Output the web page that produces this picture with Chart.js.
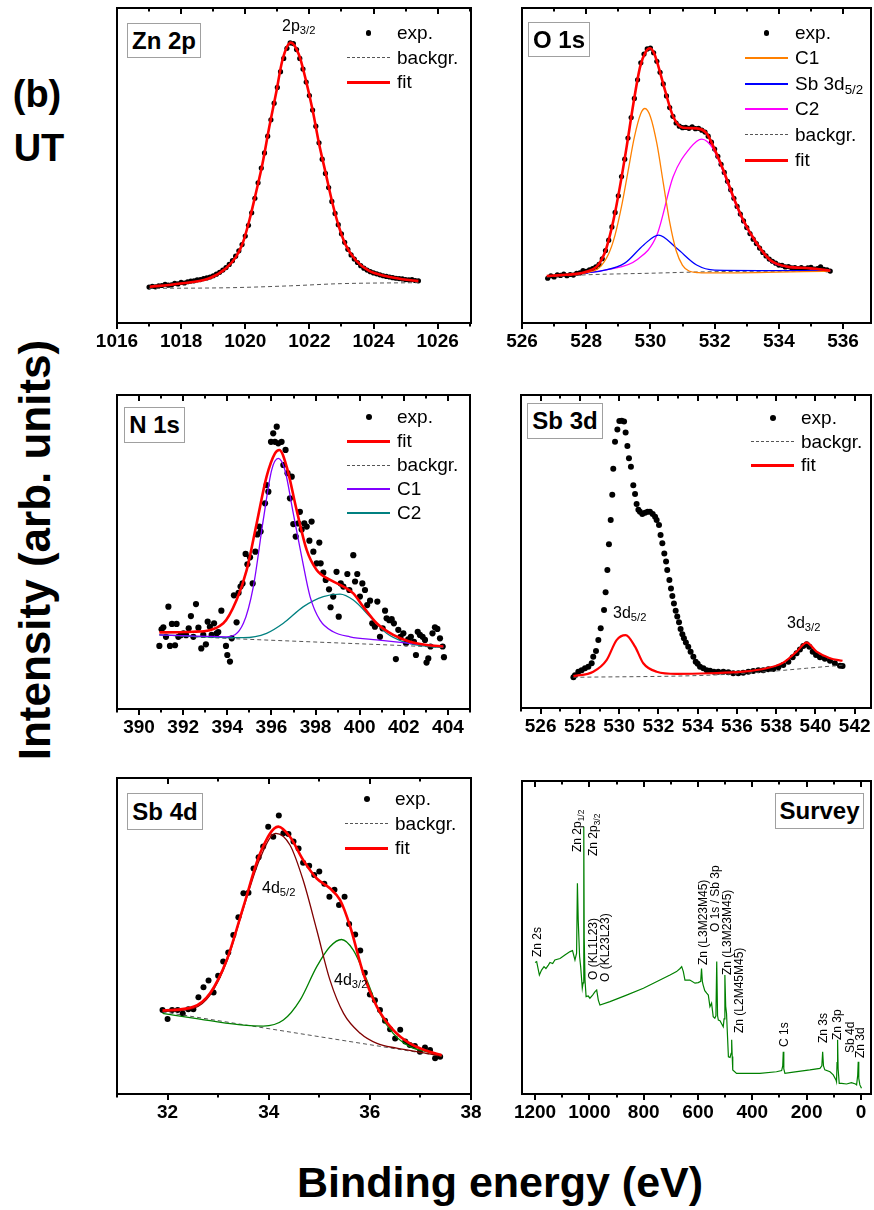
<!DOCTYPE html>
<html>
<head>
<meta charset="utf-8">
<script src="https://cdn.jsdelivr.net/npm/chart.js@4.4.0/dist/chart.umd.min.js"></script>
<style>
body { margin: 0; background: #fff; }
#fig { position: relative; width: 874px; height: 1210px; overflow: hidden; font-family: "Liberation Sans", Arial, sans-serif; color: #000; }
.pan { position: absolute; }
.ttl { position: absolute; border: 1px solid #a0a0a0; background: #fff; font-weight: bold; font-size: 24px; display: flex; align-items: center; justify-content: center; box-sizing: border-box; }
.lrow { position: absolute; height: 24px; display: flex; align-items: center; font-size: 19px; white-space: nowrap; }
.smp { display: inline-block; width: 43px; margin-right: 7px; height: 0; }
.dotw { display: inline-flex; width: 43px; margin-right: 7px; height: 24px; align-items: center; justify-content: center; }
.dotw i { display: block; background: #000; border-radius: 50%; }
.ann { position: absolute; font-size: 16px; line-height: 16px; white-space: nowrap; }
.sb { font-size: 70%; position: relative; top: 0.3em; }
.rot { position: absolute; font-size: 12px; line-height: 14px; white-space: nowrap; transform-origin: 0 0; transform: rotate(-90deg); }
.big { position: absolute; font-weight: bold; white-space: nowrap; text-align: center; }
</style>
</head>
<body>
<div id="fig">
  <div class="big" style="left:0;top:72px;width:74px;font-size:38px;line-height:44px;">(b)</div>
  <div class="big" style="left:2px;top:126px;width:74px;font-size:38px;line-height:44px;">UT</div>
  <div class="big" style="left:-215px;top:525px;width:500px;font-size:44px;line-height:50px;transform:rotate(-90deg);">Intensity (arb. units)</div>
  <div class="big" style="left:200px;top:1161px;width:600px;font-size:43px;line-height:43px;">Binding energy (eV)</div>
</div>
<script>
// ---------- data ----------
const zn2pTicks = [1016, 1018, 1020, 1022, 1024, 1026];
const zn2pMinor = [1017, 1019, 1021, 1023, 1025, 1027];
const zn2pExp = [[1017.0,11.4],[1017.1,11.6],[1017.2,11.5],[1017.3,11.8],[1017.4,11.9],[1017.5,12.3],[1017.6,12.0],[1017.7,12.1],[1017.8,12.6],[1017.9,12.4],
  [1018.0,12.9],[1018.1,12.7],[1018.2,13.1],[1018.3,13.3],[1018.4,13.4],[1018.5,13.7],[1018.6,13.8],[1018.7,14.1],[1018.8,14.3],[1018.9,14.6],
  [1019.0,15.0],[1019.1,15.5],[1019.2,16.1],[1019.3,16.8],[1019.4,17.6],[1019.5,18.6],[1019.6,19.8],[1019.7,21.2],[1019.8,22.9],[1019.9,24.9],
  [1020.0,27.6],[1020.1,31.0],[1020.2,35.0],[1020.3,39.6],[1020.4,44.5],[1020.5,49.2],[1020.6,54.0],[1020.7,59.3],[1020.8,64.5],[1020.9,69.8],
  [1021.0,74.8],[1021.1,79.8],[1021.2,84.0],[1021.3,87.2],[1021.4,88.9],[1021.5,88.7],[1021.6,86.8],[1021.7,84.0],[1021.8,80.6],[1021.9,76.5],
  [1022.0,72.2],[1022.1,67.6],[1022.2,62.5],[1022.3,57.2],[1022.4,52.0],[1022.5,47.5],[1022.6,43.0],[1022.7,38.6],[1022.8,34.8],[1022.9,31.2],
  [1023.0,28.3],[1023.1,25.6],[1023.2,23.4],[1023.3,21.6],[1023.4,20.3],[1023.5,19.2],[1023.6,18.2],[1023.7,17.4],[1023.8,16.8],[1023.9,16.3],
  [1024.0,15.9],[1024.1,15.6],[1024.2,15.3],[1024.3,15.0],[1024.4,14.8],[1024.5,14.6],[1024.6,14.4],[1024.7,14.2],[1024.8,14.1],[1024.9,14.0],
  [1025.0,13.8],[1025.1,13.7],[1025.2,13.8],[1025.3,13.5],[1025.4,13.4]];
const zn2pFit = [[1017.02,11.5],[1017.85,12.4],[1018.88,14.2],[1019.4,17.4],[1019.71,21],[1019.92,25.3],[1020.13,32.7],[1020.33,41.2],[1020.54,50.7],
  [1020.75,62.3],[1020.96,72.9],[1021.16,83.5],[1021.42,89],[1021.68,85],[1021.89,77.1],[1022.1,67.6],[1022.3,57],[1022.51,47.5],[1022.72,38],
  [1022.92,30.6],[1023.13,24.8],[1023.44,20],[1023.85,16.6],[1024.37,14.9],[1024.89,13.9],[1025.4,13.3]];
const zn2pBg = [[1017.0,11.0],[1019.5,11.2],[1021.4,11.8],[1023.0,12.5],[1025.4,12.8]];

const o1sTicks = [526, 528, 530, 532, 534, 536];
const o1sMinor = [527, 529, 531, 533, 535];
const o1sExp = [[526.8,14.2],[526.9,15.0],[527.0,14.6],[527.1,15.3],[527.2,15.1],[527.3,15.5],[527.4,15.0],[527.5,15.4],[527.6,15.2],[527.7,15.8],
  [527.8,15.9],[527.9,16.6],[528.0,16.4],[528.1,16.9],[528.2,17.3],[528.3,17.8],[528.4,18.6],[528.5,20.4],[528.6,23.0],[528.7,26.3],
  [528.8,30.5],[528.9,35.1],[529.0,40.4],[529.1,46.5],[529.2,52.0],[529.3,58.7],[529.4,65.2],[529.5,71.3],[529.6,77.2],[529.7,82.6],
  [529.8,85.4],[529.9,87.0],[530.0,87.3],[530.1,85.8],[530.2,83.1],[530.3,79.6],[530.4,75.9],[530.5,72.1],[530.6,68.4],[530.7,65.6],
  [530.8,63.5],[530.9,62.5],[531.0,62.0],[531.1,62.1],[531.2,61.8],[531.3,62.3],[531.4,61.7],[531.5,61.8],[531.6,61.2],[531.7,60.6],
  [531.8,59.3],[531.9,57.4],[532.0,55.2],[532.1,52.9],[532.2,50.4],[532.3,47.8],[532.4,45.0],[532.5,42.3],[532.6,39.6],[532.7,37.0],
  [532.8,34.6],[532.9,32.4],[533.0,30.3],[533.1,28.4],[533.2,26.6],[533.3,25.2],[533.4,23.8],[533.5,22.4],[533.6,21.3],[533.7,20.3],
  [533.8,19.6],[533.9,19.0],[534.0,18.4],[534.1,18.3],[534.2,17.8],[534.3,17.9],[534.4,17.5],[534.5,17.6],[534.6,17.3],[534.7,17.6],
  [534.8,17.2],[534.9,17.5],[535.0,17.7],[535.1,17.1],[535.2,17.3],[535.3,17.8],[535.4,17.0],[535.5,16.9],[535.6,16.5]];
const o1sFit = [[526.77,14.9],[527.2,15.2],[527.7,15.6],[528.0,16.3],[528.33,17.9],[528.5,20.5],[528.64,24.2],[528.85,32.7],[529.05,43.3],
  [529.26,56],[529.47,69.7],[529.68,81.4],[529.85,86],[529.99,87.2],[530.12,85.5],[530.25,81.4],[530.45,74],[530.71,65.5],[531.02,62],
  [531.44,61.8],[531.75,60.2],[531.96,56],[532.27,48.6],[532.58,40.1],[532.89,32.7],[533.31,25.3],[533.73,20],[534.25,17.9],[534.97,17.4],[535.6,16.6]];
const o1sC1 = [[527.5,15.4],[528.0,16.0],[528.4,17.5],[528.7,22],[528.9,28],[529.1,37],[529.3,48],[529.5,59],[529.7,66.5],[529.83,68.1],
  [530.0,65.5],[530.2,57],[530.4,44.5],[530.6,32],[530.8,23],[531.0,18.3],[531.2,16.5],[531.5,16.0],[532.0,15.9],[535.6,16.5]];
const o1sSb = [[527.7,15.6],[528.5,16.6],[529.2,19],[529.79,24.8],[530.25,27.9],[530.82,23.7],[531.44,18.4],[532.0,16.8],[535.6,16.6]];
const o1sC2 = [[527.7,15.6],[528.7,17],[529.57,20],[530.2,27.9],[530.71,46.5],[531.23,55.5],[531.6,58.4],[531.96,55.2],[532.27,47.9],
  [532.58,39.5],[532.89,32.2],[533.31,25.0],[533.73,19.8],[534.25,17.8],[534.97,17.3],[535.6,16.6]];
const o1sBg = [[526.77,14.6],[528.0,15.3],[530.0,15.8],[532.0,16.3],[535.6,16.5]];

const n1sTicks = [390, 392, 394, 396, 398, 400, 402, 404];
const n1sMinor = [389, 391, 393, 395, 397, 399, 401, 403, 405];
const n1sExp = [[390.92,20.1],[391.02,25.4],[391.10,26.0],[391.22,23.0],[391.33,32.6],[391.40,20.1],[391.49,27.1],[391.63,20.3],[391.70,27.1],
  [391.78,23.0],[391.89,23.5],[392.01,24.1],[392.13,23.5],[392.25,25.7],[392.35,29.6],[392.46,23.0],[392.58,33.4],[392.69,25.9],[392.82,19.3],
  [392.91,23.6],[393.03,20.6],[393.11,27.8],[393.21,26.2],[393.29,23.6],[393.40,27.3],[393.52,24.1],[393.59,24.5],[393.73,31.3],[393.94,20.1],
  [394.00,17.2],[394.12,15.1],[394.20,22.5],[394.30,36.2],[394.42,27.6],[394.51,37.0],[394.60,39.0],[394.69,40.0],[394.83,49.4],[394.91,46.1],
  [395.03,48.3],[395.15,40.0],[395.27,50.1],[395.36,55.6],[395.45,58.1],[395.51,56.5],[395.71,65.5],[395.78,71.3],[395.86,69.2],[395.98,85.1],
  [396.08,87.8],[396.16,85.1],[396.24,89.9],[396.31,84.6],[396.46,85.1],[396.54,77.7],[396.64,82.5],[396.73,75.1],[396.84,67.1],[396.92,74.0],
  [396.99,58.9],[397.10,54.9],[397.22,59.1],[397.29,62.8],[397.37,57.2],[397.49,59.1],[397.60,58.1],[397.72,53.6],[397.82,59.7],[397.90,50.1],
  [398.05,46.4],[398.17,53.0],[398.23,46.4],[398.35,43.4],[398.46,41.1],[398.61,38.1],[398.68,32.4],[398.80,35.8],[398.95,43.7],[399.05,29.4],
  [399.14,40.0],[399.26,39.0],[399.44,43.0],[399.53,37.9],[399.71,49.0],[399.79,40.6],[399.89,43.0],[400.01,35.8],[400.12,40.0],[400.24,37.9],
  [400.34,33.1],[400.47,34.5],[400.57,27.3],[400.69,26.2],[400.80,34.2],[400.92,23.0],[401.04,25.7],[401.15,31.3],[401.22,28.9],[401.34,28.3],
  [401.45,28.6],[401.55,27.3],[401.64,15.9],[401.75,25.2],[401.85,23.0],[401.98,24.1],[402.10,20.9],[402.20,22.2],[402.32,23.0],[402.46,21.4],
  [402.55,17.2],[402.63,24.6],[402.73,23.6],[402.85,23.0],[402.96,22.0],[403.03,14.8],[403.11,16.1],[403.21,19.9],[403.30,24.1],[403.41,26.0],
  [403.52,25.5],[403.64,22.5],[403.76,19.9],[403.82,16.5]];
const n1sFit = [[390.92,24.4],[392.46,24.6],[393.82,27.3],[394.42,34.7],[394.88,44.3],[395.33,59.1],[395.78,74.0],[396.16,81.4],[396.36,82.5],
  [396.69,77.2],[397.14,63.4],[397.60,50.6],[398.05,44.3],[398.66,41.1],[399.26,39.0],[399.71,36.8],[400.16,32.6],[400.77,27.3],[401.52,23.6],
  [402.28,21.4],[403.03,20.4],[403.79,19.9]];
const n1sC1 = [[390.92,23.6],[393.97,23.0],[394.73,27.3],[395.18,39.0],[395.63,60.2],[396.01,76.1],[396.31,79.8],[396.61,76.1],[396.99,62.3],
  [397.37,48.5],[397.75,35.8],[398.20,28.3],[398.80,24.6],[399.56,23.0],[400.77,22.0],[402.28,20.9],[403.79,19.9]];
const n1sC2 = [[390.92,23.6],[394.73,22.7],[395.78,24.1],[396.54,27.3],[397.45,32.6],[398.35,35.8],[399.11,36.6],[399.71,34.7],[400.47,29.4],
  [401.22,24.1],[401.98,21.4],[402.88,20.1],[403.79,19.6]];
const n1sBg = [[390.92,23.6],[393.97,22.5],[397.75,21.4],[402.28,20.1],[403.8,19.6]];

const sb3dTicks = [526, 528, 530, 532, 534, 536, 538, 540, 542];
const sb3dMinor = [525, 527, 529, 531, 533, 535, 537, 539, 541];
const sb3dExp = [[527.67,9.8],[527.75,10.5],[527.92,11.6],[528.09,12.1],[528.26,12.7],[528.43,13.2],[528.60,14.3],[528.68,16.4],[528.82,18.2],
  [528.94,21.7],[529.06,25.5],[529.23,31.3],[529.31,37.0],[529.40,44.1],[529.48,52.3],[529.57,60.1],[529.65,68.1],[529.70,76.4],[529.79,85.1],
  [529.91,89.0],[530.01,91.7],[530.13,91.8],[530.25,91.5],[530.33,88.0],[530.42,83.7],[530.50,79.8],[530.60,77.1],[530.72,71.2],[530.81,68.4],
  [530.89,65.2],[530.98,63.3],[531.06,62.7],[531.18,62.0],[531.32,62.4],[531.45,62.7],[531.57,62.7],[531.71,62.0],[531.83,61.1],[531.91,60.1],
  [532.03,58.5],[532.11,55.3],[532.20,52.6],[532.30,49.4],[532.39,46.8],[532.45,44.1],[532.56,40.9],[532.64,38.2],[532.71,35.8],[532.79,33.4],
  [532.88,31.1],[532.96,29.2],[533.05,27.4],[533.13,25.2],[533.22,23.6],[533.30,22.3],[533.40,20.9],[533.52,19.6],[533.64,18.0],[533.78,16.4],
  [533.90,14.8],[534.00,14.1],[534.12,13.2],[534.29,12.7],[534.46,12.1],[534.63,11.9],[534.83,11.6],[535.05,11.6],[535.31,11.6],[535.56,11.4],
  [535.81,11.1],[536.07,11.1],[536.32,11.3],[536.58,11.6],[536.83,11.8],[537.09,12.1],[537.34,12.1],[537.60,12.4],[537.85,12.5],[538.11,13.0],
  [538.36,13.7],[538.62,14.8],[538.84,16.2],[539.04,17.5],[539.21,18.7],[539.38,19.8],[539.55,20.4],[539.69,19.6],[539.86,18.0],[540.03,16.9],
  [540.23,16.2],[540.48,15.7],[540.74,15.1],[540.99,14.3],[541.25,13.5],[541.38,13.4]];
const sb3dFit = [[527.67,10.2],[528.68,11.6],[529.36,15.3],[529.87,21.7],[530.33,23.3],[530.81,19.6],[531.23,14.3],[531.91,11.6],[532.93,10.9],
  [534.63,11.1],[536.32,11.6],[537.51,12.7],[538.36,14.5],[539.04,18.0],[539.55,20.9],[540.06,18.0],[540.74,15.9],[541.38,15.1]];
const sb3dBg = [[527.67,9.8],[534.63,10.5],[537.51,11.6],[539.55,12.7],[541.38,13.7]];

const sb4dTicks = [32, 34, 36, 38];
const sb4dMinor = [31, 33, 35, 37];
const sb4dExp = [[31.90,26.6],[32.00,23.7],[32.09,26.6],[32.20,26.6],[32.30,25.5],[32.41,26.8],[32.51,26.8],[32.61,30.6],[32.71,33.8],
  [32.81,35.9],[32.91,32.1],[33.00,37.4],[33.10,41.9],[33.20,44.8],[33.30,50.3],[33.40,55.9],[33.50,63.5],[33.60,63.7],[33.70,71.4],
  [33.80,74.9],[33.89,78.3],[33.99,84.6],[34.09,81.4],[34.20,88.1],[34.29,82.5],[34.39,82.3],[34.49,79.9],[34.59,77.7],[34.68,73.2],
  [34.80,72.2],[34.90,69.3],[35.00,70.4],[35.10,66.5],[35.20,62.4],[35.30,64.6],[35.39,59.8],[35.50,62.4],[35.59,53.8],[35.71,50.5],
  [35.81,45.4],[35.90,38.4],[36.00,31.5],[36.10,29.7],[36.20,26.6],[36.30,23.2],[36.40,20.5],[36.50,17.6],[36.60,20.3],[36.70,16.6],
  [36.79,15.5],[36.89,15.2],[36.99,13.4],[37.09,14.7],[37.19,13.9],[37.29,11.3],[37.39,11.8]];
const sb4dFit = [[31.90,26.4],[32.51,27.6],[32.84,31.9],[33.17,42.4],[33.50,59.3],[33.83,76.2],[34.19,84.6],[34.42,81.4],[34.68,74.1],
  [34.95,68.2],[35.21,65.1],[35.41,61.4],[35.61,53.0],[35.87,38.2],[36.14,27.6],[36.46,20.3],[36.79,16.0],[37.12,13.7],[37.42,12.3]];
const sb4d52 = [[31.90,26.1],[32.51,27.1],[32.84,31.3],[33.17,41.9],[33.50,58.8],[33.83,74.6],[34.14,82.5],[34.42,78.8],[34.68,67.7],
  [34.95,51.9],[35.21,36.1],[35.48,25.5],[35.81,19.2],[36.14,16.0],[36.53,14.5],[36.93,13.4],[37.42,12.0]];
const sb4d32 = [[31.90,25.5],[32.84,23.2],[33.50,21.8],[33.89,21.5],[34.29,23.4],[34.62,29.7],[34.95,40.3],[35.21,46.6],[35.44,48.9],
  [35.67,45.6],[35.94,36.1],[36.20,25.5],[36.46,19.2],[36.79,15.0],[37.12,13.4],[37.42,12.0]];
const sb4dBg = [[31.90,26.0],[37.42,12.0]];

const survTicks = [1200, 1000, 800, 600, 400, 200, 0];
const survMinor = [1100, 900, 700, 500, 300, 100];
const survey = [[1200,42.0],[1194,42.3],[1184,38.0],[1176,39.6],[1167,40.7],[1160,40.1],[1151,41.2],[1145,42.0],[1135,41.7],[1127,42.8],
  [1108,43.3],[1090,44.4],[1071,45.5],[1062,45.8],[1053,42.8],[1047,45],[1044,67.3],[1041,55.6],[1036,44],[1032,40.7],[1026,33.8],
  [1023,35.5],[1021,60],[1020,85.4],[1019,50],[1016,36.4],[1012,31.1],[1004,31.3],[998,30.6],[988,31.6],[979,32.7],[973,33.2],[967,30.0],
  [961,28.4],[924,29.5],[863,31.6],[801,33.8],[740,36.4],[703,38.0],[679,39.1],[666,40.1],[660,40.7],[654,39.1],[648,36.4],[630,36.4],
  [611,35.4],[599,35.6],[590,36],[587,40.1],[584,36],[581,34.8],[575,33],[568,32.2],[562,31.6],[556,27.9],[550,29.0],[544,24.7],[538,24.2],
  [534,25],[531,42.3],[528,25],[525,23.6],[519,23.4],[507,21.5],[504,24],[501,38.0],[498,28],[495,25.8],[488,11.9],[482,11.7],[478,13],
  [476,17.3],[474,12],[472,7.7],[458,6.6],[433,6.6],[372,6.6],[311,7.1],[292,7.5],[288,9],[286,13.5],[284,8],[280,6.6],[249,7.0],[188,7.7],
  [151,8.2],[144,9],[141,13.5],[138,9],[133,7.7],[114,7.1],[102,6.1],[92,4.5],[90,3.9],[88,10],[86,17.3],[84,8],[80,3.4],[71,3.4],[53,3.2],
  [35,3.6],[20,3.2],[16,2.9],[12,6],[10,10.3],[8,5],[4,2.9],[-2,1.8]];

// ---------- helpers ----------
const fig = document.getElementById('fig');
const RED = '#ff0000', BG = '#555555';

const framePlugin = {
  id: 'frame',
  afterDraw(chart, args, opts) {
    const { ctx, chartArea: a } = chart;
    const x = chart.scales.x;
    ctx.save();
    ctx.strokeStyle = '#000';
    ctx.lineWidth = 2;
    ctx.strokeRect(a.left, a.top, a.right - a.left, a.bottom - a.top);
    const tick = (v, len) => {
      const px = Math.round(x.getPixelForValue(v));
      if (px < a.left - 1 || px > a.right + 1) return;
      ctx.beginPath();
      ctx.moveTo(px, a.bottom); ctx.lineTo(px, a.bottom + len);
      ctx.moveTo(px, a.top); ctx.lineTo(px, a.top + len);
      ctx.stroke();
    };
    opts.major.forEach(v => tick(v, 6));
    opts.minor.forEach(v => tick(v, 3.5));
    ctx.restore();
  }
};

const xy = a => a.map(p => ({ x: p[0], y: p[1] }));
const dots = (a, r) => ({ data: xy(a), showLine: false, pointRadius: r, pointBackgroundColor: '#000', pointBorderColor: '#000', pointBorderWidth: 0, order: 9 });
const curve = (a, color, w, order, dash) => ({ data: xy(a), showLine: true, pointRadius: 0, borderColor: color, borderWidth: w,
  borderDash: dash || [], cubicInterpolationMode: 'monotone', fill: false, order: order });

function panel(box, xmin, xmax, ticks, minor, datasets, reverse) {
  const pad = 40, top = 10, axisH = 45;
  const w = box.r - box.l + 2 * pad, h = box.b - box.t + top + axisH;
  const wrap = document.createElement('div');
  wrap.className = 'pan';
  wrap.style.left = (box.l - pad) + 'px';
  wrap.style.top = (box.t - top) + 'px';
  const cv = document.createElement('canvas');
  cv.width = w; cv.height = h;
  cv.style.width = w + 'px'; cv.style.height = h + 'px';
  wrap.appendChild(cv);
  fig.insertBefore(wrap, fig.firstChild);
  return new Chart(cv, {
    type: 'scatter',
    data: { datasets },
    options: {
      responsive: false, animation: false, events: [],
      layout: { padding: { left: pad, right: pad, top: top, bottom: 0 } },
      plugins: { legend: { display: false }, tooltip: { enabled: false }, frame: { major: ticks, minor: minor } },
      scales: {
        x: {
          type: 'linear', min: xmin, max: xmax, reverse: !!reverse,
          afterBuildTicks: s => { s.ticks = ticks.map(v => ({ value: v })); },
          afterFit: s => { s.height = axisH; },
          grid: { display: false, drawTicks: false }, border: { display: false },
          ticks: { padding: 7, color: '#000', autoSkip: false, maxRotation: 0,
                   font: { family: 'Liberation Sans', weight: 'bold', size: 19 }, callback: v => String(v) }
        },
        y: { display: false, min: 0, max: 100 }
      }
    },
    plugins: [framePlugin]
  });
}

function title(txt, l, t, w, h) {
  const d = document.createElement('div');
  d.className = 'ttl';
  Object.assign(d.style, { left: l + 'px', top: t + 'px', width: w + 'px', height: h + 'px' });
  d.textContent = txt;
  fig.appendChild(d);
}

function legend(sx, y0, rowH, items) {
  items.forEach((it, i) => {
    const row = document.createElement('div');
    row.className = 'lrow';
    row.style.left = sx + 'px';
    row.style.top = (y0 + i * rowH - 12) + 'px';
    let s;
    if (it.dot) {
      s = document.createElement('span');
      s.className = 'dotw';
      s.innerHTML = '<i style="width:' + (2 * it.dot) + 'px;height:' + (2 * it.dot) + 'px"></i>';
    } else {
      s = document.createElement('span');
      s.className = 'smp';
      s.style.borderTop = it.w + 'px ' + (it.dash ? 'dashed' : 'solid') + ' ' + it.c;
    }
    row.appendChild(s);
    const t = document.createElement('span');
    t.innerHTML = it.label;
    row.appendChild(t);
    fig.appendChild(row);
  });
}

function ann(html, l, baseline, cls) {
  const d = document.createElement('div');
  d.className = cls || 'ann';
  d.innerHTML = html;
  if (cls === 'rot') {
    d.style.left = (l - 7) + 'px';
    d.style.top = baseline + 'px';
  } else {
    d.style.left = l + 'px';
    d.style.top = (baseline - 13) + 'px';
  }
  fig.appendChild(d);
}

// ---------- panels ----------
panel({ l: 117, t: 8, r: 471, b: 323 }, 1016, 1027.04, zn2pTicks, zn2pMinor, [
  curve(zn2pFit, RED, 2.6, 1),
  curve(zn2pBg, BG, 1, 4, [4, 3]),
  dots(zn2pExp, 2.6)
]);
title('Zn 2p', 127, 23, 74, 35);
legend(347, 33, 24.5, [
  { dot: 2.8, label: 'exp.' },
  { c: BG, w: 1, dash: true, label: 'backgr.' },
  { c: RED, w: 3, label: 'fit' }
]);
ann('2p<span class="sb">3/2</span>', 282, 31);

panel({ l: 522, t: 8, r: 871, b: 323 }, 526, 536.87, o1sTicks, o1sMinor, [
  curve(o1sFit, RED, 2.6, 1),
  curve(o1sC1, '#ff8000', 1.3, 3),
  curve(o1sSb, '#0000ff', 1.3, 3),
  curve(o1sC2, '#ff00ff', 1.3, 3),
  curve(o1sBg, BG, 1, 4, [4, 3]),
  dots(o1sExp, 2.6)
]);
title('O 1s', 528, 22, 62, 35);
legend(745, 33, 25.4, [
  { dot: 2.8, label: 'exp.' },
  { c: '#ff8000', w: 2, label: 'C1' },
  { c: '#0000ff', w: 2, label: 'Sb 3d<span class="sb">5/2</span>' },
  { c: '#ff00ff', w: 2, label: 'C2' },
  { c: BG, w: 1, dash: true, label: 'backgr.' },
  { c: RED, w: 3, label: 'fit' }
]);

panel({ l: 117, t: 395, r: 470, b: 709 }, 389, 405, n1sTicks, n1sMinor, [
  curve(n1sFit, RED, 2.6, 1),
  curve(n1sC1, '#8000ff', 1.3, 3),
  curve(n1sC2, '#008080', 1.3, 3),
  curve(n1sBg, BG, 1, 4, [4, 3]),
  dots(n1sExp, 3.1)
]);
title('N 1s', 124, 407, 61, 36);
legend(347, 417, 24, [
  { dot: 3, label: 'exp.' },
  { c: RED, w: 3, label: 'fit' },
  { c: BG, w: 1, dash: true, label: 'backgr.' },
  { c: '#8000ff', w: 2, label: 'C1' },
  { c: '#008080', w: 2, label: 'C2' }
]);

panel({ l: 521, t: 395, r: 871, b: 708 }, 525, 542.83, sb3dTicks, sb3dMinor, [
  curve(sb3dFit, RED, 2.2, 1),
  curve(sb3dBg, BG, 1, 4, [4, 3]),
  dots(sb3dExp, 3)
]);
title('Sb 3d', 527, 403, 76, 36);
legend(751, 418, 23.5, [
  { dot: 3, label: 'exp.' },
  { c: BG, w: 1, dash: true, label: 'backgr.' },
  { c: RED, w: 3, label: 'fit' }
]);
ann('3d<span class="sb">5/2</span>', 613, 618);
ann('3d<span class="sb">3/2</span>', 787, 628);

panel({ l: 117, t: 778, r: 471, b: 1094 }, 31, 38, sb4dTicks, sb4dMinor, [
  curve(sb4dFit, RED, 2.6, 1),
  curve(sb4d52, '#800000', 1.3, 3),
  curve(sb4d32, '#008000', 1.3, 3),
  curve(sb4dBg, BG, 1, 4, [4, 3]),
  dots(sb4dExp, 3)
]);
title('Sb 4d', 127, 793, 76, 37);
legend(345, 799, 24.5, [
  { dot: 3, label: 'exp.' },
  { c: BG, w: 1, dash: true, label: 'backgr.' },
  { c: RED, w: 3, label: 'fit' }
]);
ann('4d<span class="sb">5/2</span>', 262, 893);
ann('4d<span class="sb">3/2</span>', 334, 985);

panel({ l: 522, t: 781, r: 871, b: 1094 }, -37, 1248, survTicks, survMinor, [
  { data: xy(survey), showLine: true, pointRadius: 0, borderColor: '#008000', borderWidth: 1.2, tension: 0, fill: false }
], true);
title('Survey', 775, 793, 89, 36);
[
  ['Zn 2s', 537, 957], ['Zn 2p<span class="sb">1/2</span>', 577, 852], ['Zn 2p<span class="sb">3/2</span>', 593, 856],
  ['O (KL1L23)', 593, 980], ['O (KL23L23)', 605, 982], ['Zn (L3M23M45)', 703, 965], ['O 1s / Sb 3p', 715, 932],
  ['Zn (L3M23M45)', 727, 975], ['Zn (L2M45M45)', 739, 1033], ['C 1s', 784, 1047], ['Zn 3s', 823, 1043],
  ['Zn 3p', 837, 1040], ['Sb 4d', 850, 1053], ['Zn 3d', 860, 1058]
].forEach(a => ann(a[0], a[1], a[2], 'rot'));
</script>
</body>
</html>
